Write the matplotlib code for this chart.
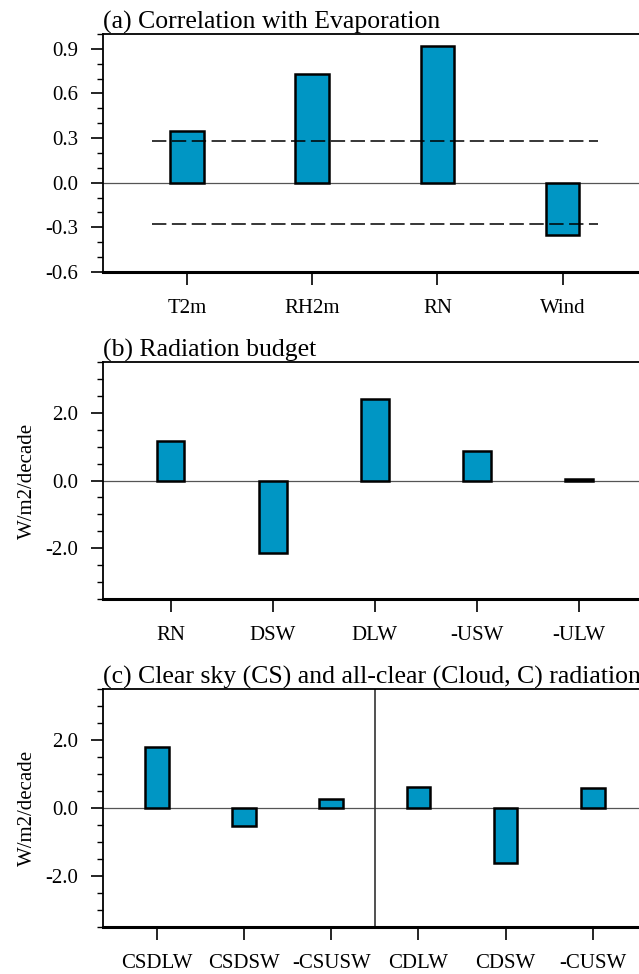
import numpy as np
import matplotlib.pyplot as plt
from matplotlib.ticker import MultipleLocator

plt.rcParams['font.family'] = ['Liberation Serif', 'DejaVu Serif']

# panel (a)
corr_names = ['T2m', 'RH2m', 'RN', 'Wind']
corr_vals = [0.35, 0.73, 0.92, -0.35]
sig_level = 0.28

# panel (b)
rad_names = ['RN', 'DSW', 'DLW', '-USW', '-ULW']
rad_vals = [1.17, -2.13, 2.40, 0.88, 0.05]

# panel (c)
cs_names = ['CSDLW', 'CSDSW', '-CSUSW', 'CDLW', 'CDSW', '-CUSW']
cs_vals = [1.79, -0.52, 0.28, 0.62, -1.62, 0.60]

bar_color = '#0096c4'
W, H = 639, 974
fig = plt.figure(figsize=(W / 100, H / 100), dpi=100)


def make_axes(top_px, bottom_px):
    left = 102.7 / W
    width = (647 - 102.7) / W
    return fig.add_axes([left, 1 - bottom_px / H, width, (bottom_px - top_px) / H])


def style(ax, names, title, major, minor, fmt, pad_side):
    n = len(names)
    x = np.arange(n)
    ax.set_xlim(-pad_side, n - 1 + pad_side)
    ax.set_xticks(x)
    ax.set_xticklabels(names, fontsize=15)
    ax.yaxis.set_major_locator(MultipleLocator(major))
    ax.yaxis.set_minor_locator(MultipleLocator(minor))
    ax.yaxis.set_major_formatter(plt.FormatStrFormatter(fmt))
    ax.tick_params(axis='y', which='major', direction='out', length=9, width=1.2,
                   labelsize=15, pad=8.5)
    ax.tick_params(axis='y', which='minor', direction='out', length=4.5, width=1.0)
    ax.tick_params(axis='x', which='major', direction='out', length=9.5, width=1.2, pad=10)
    ax.spines['right'].set_visible(False)
    ax.spines['top'].set_linewidth(1.3)
    ax.spines['left'].set_linewidth(1.3)
    ax.spines['bottom'].set_linewidth(2.2)
    ax.axhline(0, color='#555555', lw=0.9, zorder=1)
    ax.set_title(title, loc='left', fontsize=18.5, pad=3)
    return x


# (a)
ax1 = make_axes(34, 272)
x1 = style(ax1, corr_names, '(a) Correlation with Evaporation', 0.3, 0.1, '%.1f', 0.675)
ax1.bar(x1, corr_vals, width=0.27, color=bar_color, edgecolor='black', lw=1.8, zorder=2)
ax1.set_ylim(-0.6, 1.0)
for s in (sig_level, -sig_level):
    ax1.hlines(s, -0.28, 3.28, colors='black', linestyles=(0, (9.4, 3.6)), lw=1.1, zorder=3)

# (b)
ax2 = make_axes(361.7, 599.3)
x2 = style(ax2, rad_names, '(b) Radiation budget', 2.0, 0.5, '%.1f', 0.665)
ax2.bar(x2, rad_vals, width=0.27, color=bar_color, edgecolor='black', lw=1.8, zorder=2)
ax2.set_ylim(-3.5, 3.5)
ax2.set_ylabel('W/m2/decade', fontsize=15)
ax2.yaxis.set_label_coords(-0.12, 0.5)

# (c)
ax3 = make_axes(689.3, 927.3)
x3 = style(ax3, cs_names, '(c) Clear sky (CS) and all-clear (Cloud, C) radiation', 2.0, 0.5, '%.1f', 0.62)
ax3.bar(x3, cs_vals, width=0.27, color=bar_color, edgecolor='black', lw=1.8, zorder=2)
ax3.set_ylim(-3.5, 3.5)
ax3.axvline(2.5, color='#333333', lw=1.2, zorder=1)
ax3.set_ylabel('W/m2/decade', fontsize=15)
ax3.yaxis.set_label_coords(-0.12, 0.5)

fig.savefig('out.png', dpi=100)
